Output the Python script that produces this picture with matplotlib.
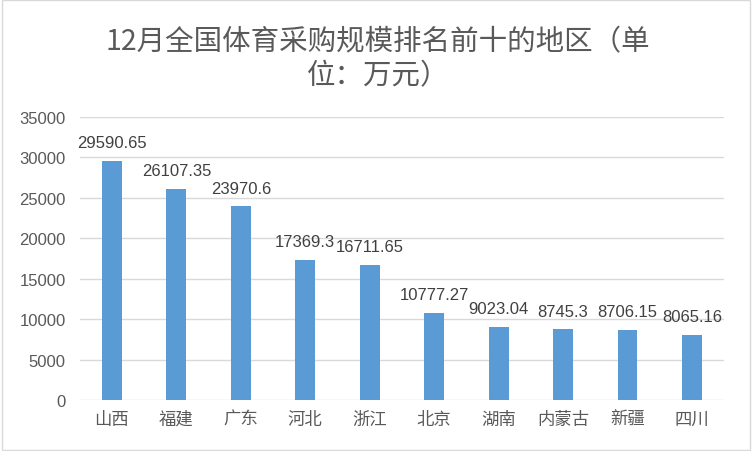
import matplotlib
matplotlib.use("Agg")
from matplotlib import pyplot as plt
import matplotlib.patches as mpatches

plt.rcParams['font.family'] = ['Noto Sans CJK SC', 'DejaVu Sans']

# data
regions = ['山西', '福建', '广东', '河北', '浙江', '北京', '湖南', '内蒙古', '新疆', '四川']
values = [29590.65, 26107.35, 23970.6, 17369.3, 16711.65, 10777.27, 9023.04, 8745.3, 8706.15, 8065.16]
labels = ['29590.65', '26107.35', '23970.6', '17369.3', '16711.65', '10777.27', '9023.04', '8745.3', '8706.15', '8065.16']
yticks = [0, 5000, 10000, 15000, 20000, 25000, 30000, 35000]
title = '12月全国体育采购规模排名前十的地区（单\n位：万元）'

num_font = ['Liberation Sans', 'DejaVu Sans']

fig = plt.figure(figsize=(7.52, 4.52), dpi=100)
ax = fig.add_axes([0.106, 0.113, 0.857, 0.626])

x = range(len(regions))
ax.bar(x, values, width=0.31, color='#5B9BD5', zorder=3)
for i, v in enumerate(values):
    ax.text(i, v + 1300, labels[i], ha='center', va='bottom', fontsize=12,
            color='#404040', family=num_font)

ax.set_xlim(-0.5, len(regions) - 0.5)
ax.set_ylim(0, 35000)
ax.set_yticks(yticks)
ax.set_yticklabels([str(t) for t in yticks], family=num_font, fontsize=12)
ax.set_xticks(list(x))
ax.set_xticklabels(regions, fontsize=12.5)
ax.grid(axis='y', color='#D9D9D9', linewidth=1, zorder=0)
for s in ['top', 'right', 'left', 'bottom']:
    ax.spines[s].set_visible(False)
ax.tick_params(axis='both', length=0, colors='#595959')
ax.tick_params(axis='y', pad=10)
ax.tick_params(axis='x', pad=7)

fig.text(0.503, 0.94, title, ha='center', va='top', fontsize=20.5, color='#595959',
         linespacing=1.2)

# outer border
fig.patches.append(mpatches.Rectangle((0.002, 0.002), 0.996, 0.996, transform=fig.transFigure,
                                      fill=False, edgecolor='#D9D9D9', linewidth=1))

fig.savefig('out.png', dpi=100)
